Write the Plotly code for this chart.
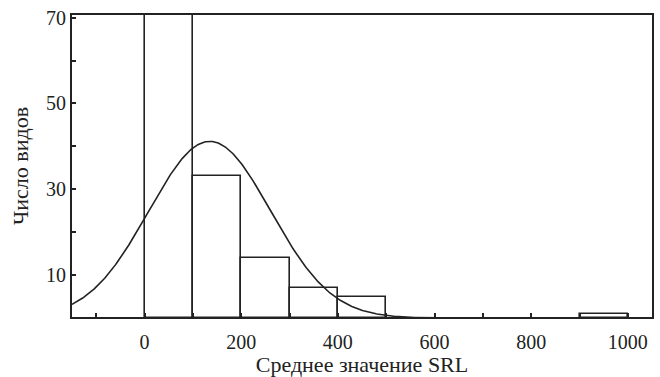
import numpy as np
import plotly.graph_objects as go

# Histogram of mean SRL values (bin width 100)
bin_left = [0, 100, 200, 300, 400, 900]
bin_counts = [72, 33, 14, 7, 5, 1]
BIN_WIDTH = 100

# Fitted normal curve parameters
FIT_MEAN = 135.0
FIT_SD = 126.0
FIT_N = 130

x_tickvals = list(range(-100, 1001, 100))
x_ticktext = [str(v) if v % 200 == 0 else "" for v in x_tickvals]
y_tickvals = [10, 20, 30, 40, 50, 60, 70]
y_ticktext = [str(v) if v in (10, 30, 50, 70) else "" for v in y_tickvals]

X_RANGE = [-150, 1050]
# lower bound a hair above zero so the bar bottoms merge with the axis line
Y_RANGE = [0.25, 70.6]

centers = [b + BIN_WIDTH / 2 for b in bin_left]

xs = np.linspace(X_RANGE[0], X_RANGE[1], 600)
ys = FIT_N * BIN_WIDTH / (FIT_SD * np.sqrt(2 * np.pi)) * np.exp(-0.5 * ((xs - FIT_MEAN) / FIT_SD) ** 2)

fig = go.Figure()
fig.add_trace(go.Bar(
    x=centers, y=bin_counts, width=[BIN_WIDTH] * len(centers),
    marker=dict(color="white", line=dict(color="#222222", width=1.6)),
    showlegend=False,
))
fig.add_trace(go.Scatter(
    x=xs, y=ys, mode="lines",
    line=dict(color="#222222", width=1.6),
    showlegend=False, cliponaxis=True,
))

font_family = "Liberation Serif, Times New Roman, serif"
fig.update_layout(
    width=660, height=377,
    margin=dict(l=72, r=8, t=15, b=60),
    paper_bgcolor="white", plot_bgcolor="white",
    font=dict(family=font_family, size=20, color="#222222"),
    bargap=0,
    xaxis=dict(
        range=X_RANGE, tickvals=x_tickvals, ticktext=x_ticktext,
        ticks="inside", ticklen=4, tickwidth=1.5, tickcolor="#222222",
        ticklabelstandoff=6, automargin=False,
        showline=True, linecolor="#222222", linewidth=2, mirror=True,
        showgrid=False, zeroline=False,
        title=dict(text="Среднее значение SRL", font=dict(size=22), standoff=2),
    ),
    yaxis=dict(
        range=Y_RANGE, tickvals=y_tickvals, ticktext=y_ticktext,
        ticks="inside", ticklen=4, tickwidth=1.5, tickcolor="#222222",
        automargin=False,
        showline=True, linecolor="#222222", linewidth=2, mirror=True,
        showgrid=False, zeroline=False,
        title=dict(text="Число видов", font=dict(size=22), standoff=11),
    ),
)

fig.write_html("out.html")
